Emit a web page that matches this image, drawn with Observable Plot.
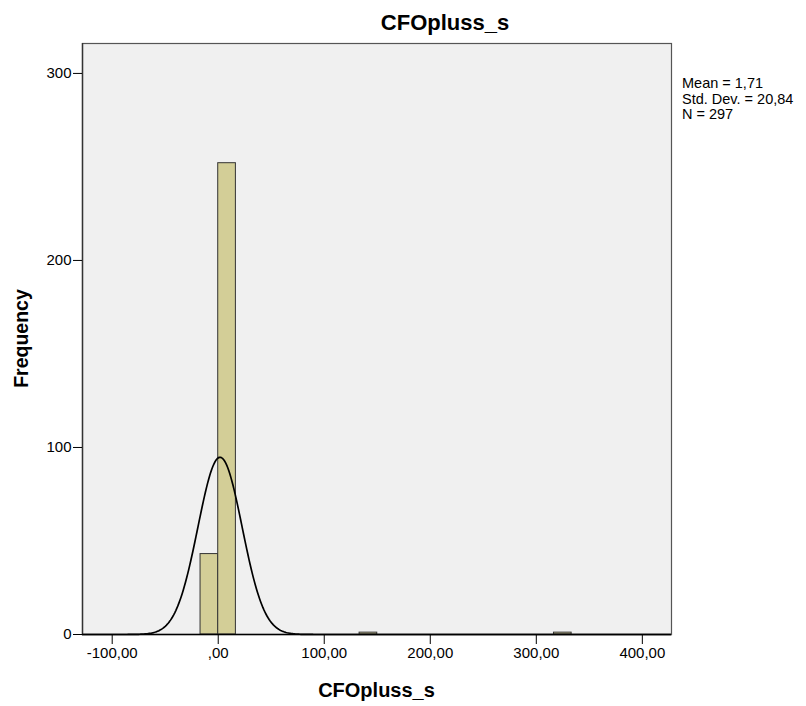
<!DOCTYPE html>
<html>
<head>
<meta charset="utf-8">
<script src="https://cdn.jsdelivr.net/npm/d3@7"></script>
<script src="https://cdn.jsdelivr.net/npm/@observablehq/plot@0.6"></script>
<style>
  html, body { margin: 0; padding: 0; background: #ffffff; }
  #chart { width: 806px; height: 706px; }
</style>
</head>
<body>
<div id="chart"></div>
<script>
// ---- data ----
const binStart = [-16.67, 0, 133.33, 316.67];
const binEnd   = [0, 16.67, 150, 333.33];
const counts   = [43, 252, 1, 1];
const xTicks = [-100, 0, 100, 200, 300, 400];
const yTicks = [0, 100, 200, 300];
const statLines = ["Mean = 1,71", "Std. Dev. = 20,84", "N = 297"];
const mean = 1.71, sd = 20.84, N = 297, binWidth = 50 / 3;
const titleText = "CFOpluss_s";
const xLabel = "CFOpluss_s";
const yLabel = "Frequency";

const bins = binStart.map((s, i) => ({x1: s, x2: binEnd[i], count: counts[i]}));

// normal curve from the stated mean / SD / N
const xs = d3.range(-128, 428, 1);
const curve = xs.map(x => ({
  x,
  y: N * binWidth * Math.exp(-0.5 * ((x - mean) / sd) ** 2) / (sd * Math.sqrt(2 * Math.PI))
}));

const fmtX = d => d === 0 ? ",00" : (d < 0 ? "-" : "") + d3.format(".2f")(Math.abs(d)).replace(".", ",");

const W = 806, H = 706;
const mL = 82, mR = 135, mT = 43, mB = 72;

const plot = Plot.plot({
  width: W,
  height: H,
  marginLeft: mL,
  marginRight: mR,
  marginTop: mT,
  marginBottom: mB,
  style: {fontFamily: "'Liberation Sans', Arial, sans-serif", fontSize: "15px", color: "#000", background: "#fff"},
  x: {domain: [-128, 427.5], label: null},
  y: {domain: [0, 316], label: null},
  marks: [
    Plot.frame({fill: "#f0f0f0", stroke: null}),
    Plot.rectY(bins, {x1: "x1", x2: "x2", y: "count", fill: "#d3ce97", stroke: "#333", strokeWidth: 1}),
    Plot.line(curve, {x: "x", y: "y", stroke: "#000", strokeWidth: 1.7}),
    Plot.frame({stroke: "#555", strokeWidth: 1.2}),
    Plot.ruleX([-128], {stroke: "#333", strokeWidth: 1.4}),
    Plot.ruleY([0], {stroke: "#000", strokeWidth: 1.6}),
    Plot.axisX({ticks: xTicks, tickFormat: fmtX, tickSize: 10, tickPadding: 3, stroke: "#000", fontSize: 15, fill: "#000"}),
    Plot.axisY({ticks: yTicks, tickFormat: d => String(d), tickSize: 9, tickPadding: 2, stroke: "#000", fontSize: 15, fill: "#000"})
  ]
});

document.getElementById("chart").appendChild(plot);

const svg = d3.select(plot);
svg.append("text")
  .attr("x", 445).attr("y", 30)
  .attr("text-anchor", "middle")
  .attr("font-family", "'Liberation Sans', Arial, sans-serif")
  .attr("font-weight", "bold").attr("font-size", 22)
  .attr("fill", "#000")
  .text(titleText);

svg.append("text")
  .attr("x", (mL + (W - mR)) / 2).attr("y", 697)
  .attr("text-anchor", "middle")
  .attr("font-family", "'Liberation Sans', Arial, sans-serif")
  .attr("font-weight", "bold").attr("font-size", 20)
  .attr("fill", "#000")
  .text(xLabel);

svg.append("text")
  .attr("transform", `translate(28,${(mT + (H - mB)) / 2}) rotate(-90)`)
  .attr("text-anchor", "middle")
  .attr("font-family", "'Liberation Sans', Arial, sans-serif")
  .attr("font-weight", "bold").attr("font-size", 19.5)
  .attr("fill", "#000")
  .text(yLabel);

const st = svg.append("text")
  .attr("text-anchor", "start")
  .attr("font-family", "'Liberation Sans', Arial, sans-serif")
  .attr("font-size", 14.5)
  .attr("fill", "#000");
statLines.forEach((s, i) => {
  st.append("tspan").attr("x", 682).attr("y", 88 + i * 15.5).text(s);
});
</script>
</body>
</html>
